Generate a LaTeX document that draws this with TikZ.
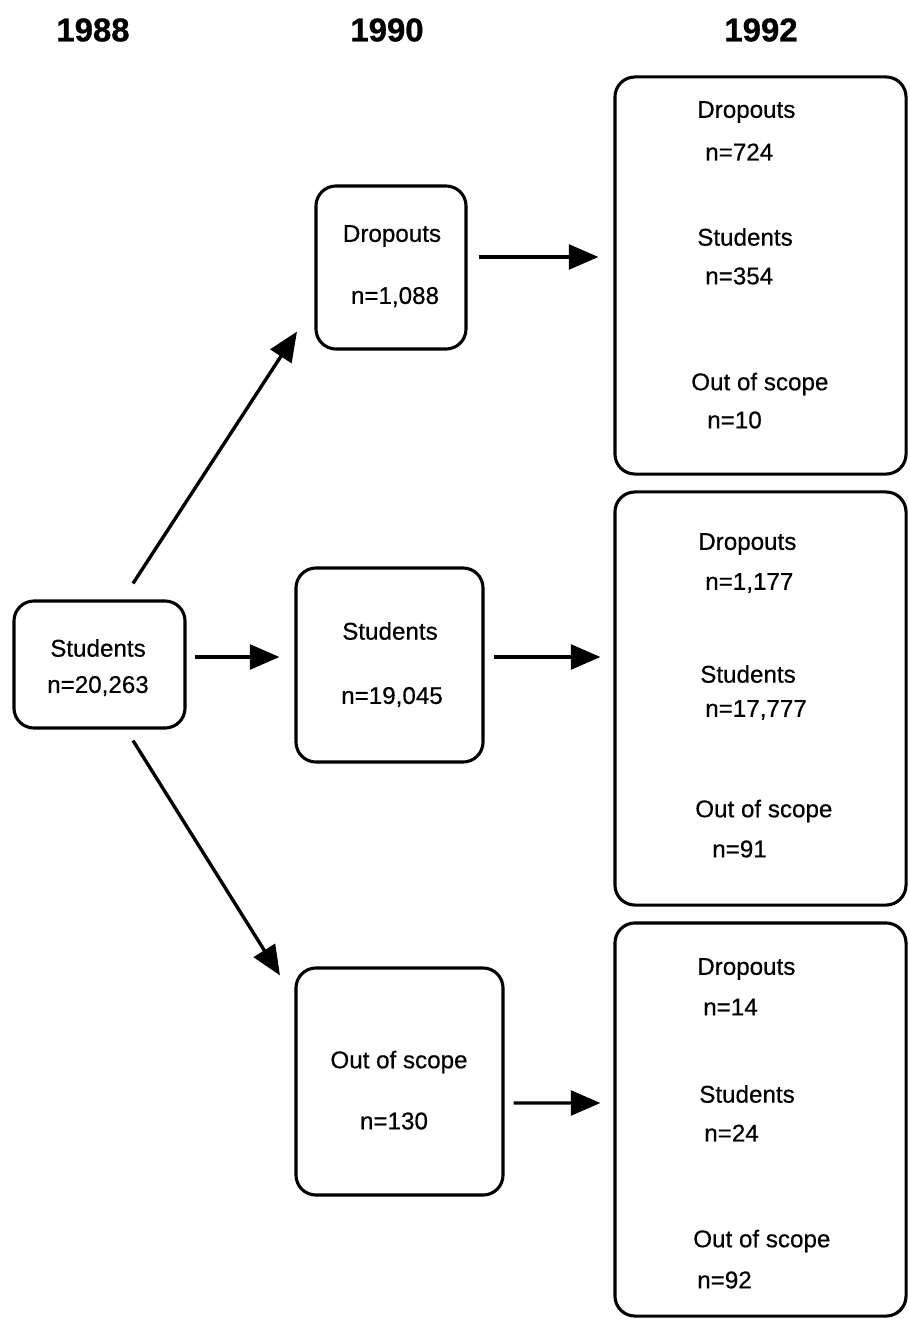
\documentclass[tikz,border=0pt]{standalone}
\usepackage{fontspec}
\setmainfont{Liberation Sans}
\newfontfamily\labfont{Liberation Sans}[FakeBold=0.5]
\newfontfamily\yrfont{Liberation Sans Bold}[FakeBold=0.8]
\usetikzlibrary{arrows.meta}
\begin{document}
\begin{tikzpicture}[x=0.025cm,y=-0.025cm,
  box/.style={draw, line width=2.2pt, rounded corners=0.5cm, inner sep=0pt},
  lbl/.style={font=\labfont\fontsize{17.2}{20}\selectfont, inner sep=0pt, anchor=center},
  rl/.style={font=\labfont\fontsize{17.2}{20}\selectfont, inner sep=0pt, anchor=west},
  yr/.style={font=\yrfont\fontsize{23.4}{28}\selectfont, inner sep=0pt},
  arr/.style={line width=2.4pt, -{Triangle[length=0.74cm,width=0.62cm]}}]
\useasboundingbox (0,0) rectangle (909,1320);
% years
\node[yr] (y88) at (93,30) {1988};
\node[yr] (y90) at (387,30) {1990};
\node[yr] (y92) at (761,30) {1992};
% boxes
\node[box, minimum width=4.275cm, minimum height=3.175cm] (A) at (99.5,664.5) {};
\node[box, minimum width=3.75cm, minimum height=4.075cm] (B) at (391,267.5) {};
\node[box, minimum width=4.675cm, minimum height=4.85cm] (C) at (389.5,665) {};
\node[box, minimum width=5.175cm, minimum height=5.675cm] (D) at (399.5,1081.5) {};
\node[box, minimum width=7.275cm, minimum height=9.925cm] (R1) at (760.5,275.5) {};
\node[box, minimum width=7.275cm, minimum height=10.325cm] (R2) at (760.5,698.5) {};
\node[box, minimum width=7.275cm, minimum height=9.825cm] (R3) at (760.5,1119.5) {};
% texts in left and middle boxes
\node[lbl] (tA1) at (98,648) {Students};
\node[lbl] (tA2) at (98,686) {n=20,263};
\node[lbl] (tB1) at (392,236) {Dropouts};
\node[lbl] (tB2) at (395,297) {n=1,088};
\node[lbl] (tC1) at (390,631) {Students};
\node[lbl] (tC2) at (392,697) {n=19,045};
\node[lbl] (tD1) at (399,1062) {Out of scope};
\node[lbl] (tD2) at (394,1121) {n=130};
% texts in right boxes
\node[rl] (r11) at (697,112) {Dropouts};
\node[rl] (r12) at (705,152) {n=724};
\node[rl] (r13) at (697,237) {Students};
\node[rl] (r14) at (705,276) {n=354};
\node[rl] (r15) at (691,384) {Out of scope};
\node[rl] (r16) at (707,420) {n=10};
\node[rl] (r21) at (698,544) {Dropouts};
\node[rl] (r22) at (705,583) {n=1,177};
\node[rl] (r23) at (700,674) {Students};
\node[rl] (r24) at (705,710) {n=17,777};
\node[rl] (r25) at (695,811) {Out of scope};
\node[rl] (r26) at (712,849) {n=91};
\node[rl] (r31) at (697,969) {Dropouts};
\node[rl] (r32) at (703,1007) {n=14};
\node[rl] (r33) at (699,1094) {Students};
\node[rl] (r34) at (704,1133) {n=24};
\node[rl] (r35) at (693,1241) {Out of scope};
\node[rl] (r36) at (697,1280) {n=92};
% arrows
\draw[arr] ([shift={(33.5,-16)}]A.north) -- ([shift={(-94,-19)}]B.south);
\draw[arr] ([shift={(8,-7.5)}]A.east) -- ([shift={(-15,-8)}]C.west);
\draw[arr] ([shift={(33.5,11)}]A.south) -- ([shift={(-119.5,9)}]D.north);
\draw[arr] ([shift={(11,-10.5)}]B.east) -- ([shift={(-15,-18.5)}]R1.west);
\draw[arr] ([shift={(9,-8)}]C.east) -- ([shift={(-13,-41.5)}]R2.west);
\draw[arr] ([shift={(9,21.5)}]D.east) -- ([shift={(-13,-16.5)}]R3.west);
\end{tikzpicture}
\end{document}
